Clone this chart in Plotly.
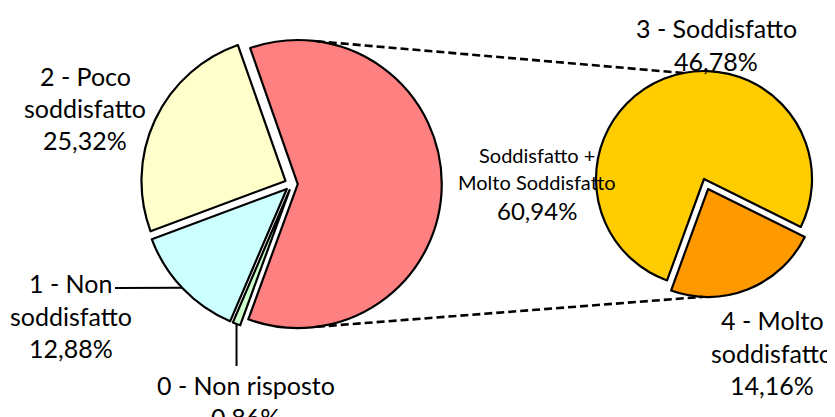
import math
import plotly.graph_objects as go

# ---------------- data ----------------
main_labels = ["Soddisfatto + Molto Soddisfatto", "0 - Non risposto",
               "1 - Non soddisfatto", "2 - Poco soddisfatto"]
main_values = [60.94, 0.86, 12.88, 25.32]
main_colors = ["#FF8080", "#CCFFCC", "#CCFFFF", "#FFFFCC"]

sub_labels = ["3 - Soddisfatto", "4 - Molto soddisfatto"]
sub_values = [46.78, 14.16]
sub_colors = ["#FFCC00", "#FF9900"]

# label text lines
lbl_poco = ["2 - Poco", "soddisfatto"]
lbl_non = ["1 - Non", "soddisfatto"]
lbl_nr = ["0 - Non risposto"]
lbl_sodd = ["3 - Soddisfatto"]
lbl_molto = ["4 - Molto", "soddisfatto"]
lbl_other = ["Soddisfatto +", "Molto Soddisfatto"]


def pct(v):
    return f"{v:.2f}".replace(".", ",") + "%"


# ---------------- geometry ----------------
W, H = 835, 417
OFF = 8  # page body margin offset
FONT = "Lato"

main_pull = [0.04, 0.045, 0.05, 0.05]
sub_pull = [0.0, 0.1]
C1, R1 = (292, 184), 144
C2, R2 = (704, 179), 108
ROT1 = -19.3
ROT2 = 200.0


def domain(c, r, maxpull):
    half = r * (1 + maxpull)
    cx, cy = c[0] - OFF, c[1] - OFF
    return dict(x=[(cx - half) / W, (cx + half) / W],
                y=[(H - cy - half) / H, (H - cy + half) / H])


def slice_mid(values, idx, rot):
    tot = sum(values)
    start = rot + 360 * sum(values[:idx]) / tot
    return start + 180 * values[idx] / tot


def slice_center(c, r, values, pulls, idx, rot):
    a = math.radians(slice_mid(values, idx, rot))
    d = pulls[idx] * r
    return (c[0] + d * math.sin(a), c[1] - d * math.cos(a))


def arc_point(center, r, ang):
    a = math.radians(ang)
    return (center[0] + r * math.sin(a), center[1] - r * math.cos(a))


def px(x, y):
    return (x - OFF) / W, 1 - (y - OFF) / H


fig = go.Figure()
fig.add_trace(go.Pie(
    labels=main_labels, values=main_values, sort=False,
    direction="clockwise", rotation=ROT1, pull=main_pull,
    marker=dict(colors=main_colors, line=dict(color="black", width=2.2)),
    textinfo="none", hoverinfo="label+percent", showlegend=False,
    domain=domain(C1, R1, max(main_pull))))
fig.add_trace(go.Pie(
    labels=sub_labels, values=sub_values, sort=False,
    direction="clockwise", rotation=ROT2, pull=sub_pull,
    marker=dict(colors=sub_colors, line=dict(color="black", width=2.2)),
    textinfo="none", hoverinfo="label+value", showlegend=False,
    domain=domain(C2, R2, max(sub_pull))))

# ---------------- connector lines ----------------
shapes = []
red_c = slice_center(C1, R1, main_values, main_pull, 0, ROT1)
orange_c = slice_center(C2, R2, sub_values, sub_pull, 1, ROT2)
p1 = arc_point(red_c, R1, 7.6)
p2 = arc_point(C2, R2, -11)
p3 = arc_point(red_c, R1, 172.4)
p4 = arc_point(orange_c, R2, 183)
for a, b in [(p1, p2), (p3, p4)]:
    x0, y0 = px(*a)
    x1, y1 = px(*b)
    shapes.append(dict(type="line", xref="paper", yref="paper",
                       x0=x0, y0=y0, x1=x1, y1=y1,
                       line=dict(color="black", width=2.6, dash="8px,4px")))

# leader lines
green_c = slice_center(C1, R1, main_values, main_pull, 1, ROT1)
gp = arc_point(green_c, R1, slice_mid(main_values, 1, ROT1))
x0, y0 = px(gp[0], gp[1])
x1, y1 = px(gp[0], 366)
shapes.append(dict(type="line", xref="paper", yref="paper",
                   x0=x0, y0=y0, x1=x1, y1=y1,
                   line=dict(color="black", width=2)))
cyan_c = slice_center(C1, R1, main_values, main_pull, 2, ROT1)
cp = arc_point(cyan_c, R1, 226.7)
x0, y0 = px(cp[0], cp[1])
x1, y1 = px(115, 288)
shapes.append(dict(type="line", xref="paper", yref="paper",
                   x0=x0, y0=y0, x1=x1, y1=y1,
                   line=dict(color="black", width=2)))

# ---------------- labels ----------------
ann = []


def add_text(lines, cx, y0, step=33, size=25):
    for i, t in enumerate(lines):
        x, y = px(cx, y0 + i * step)
        ann.append(dict(text=t, x=x, y=y, xref="paper", yref="paper",
                        xanchor="center", yanchor="middle", showarrow=False,
                        font=dict(family=FONT, size=size, color="black")))


add_text(lbl_poco + [pct(main_values[3])], 85, 76, 32)
add_text(lbl_non + [pct(main_values[2])], 71, 283, 32.5)
add_text(lbl_nr + [pct(main_values[1])], 246, 385, 32)
add_text(lbl_sodd + [pct(sub_values[0])], 716, 28, 33)
add_text(lbl_molto + [pct(sub_values[1])], 772, 320, 32.5)
add_text(lbl_other, 537, 155, 27, 20)
add_text([pct(main_values[0])], 537, 210, 0, 24)

fig.update_layout(width=W, height=H, margin=dict(l=0, r=0, t=0, b=0),
                  paper_bgcolor="white", plot_bgcolor="white",
                  shapes=shapes, annotations=ann)
fig.write_html("out.html")
